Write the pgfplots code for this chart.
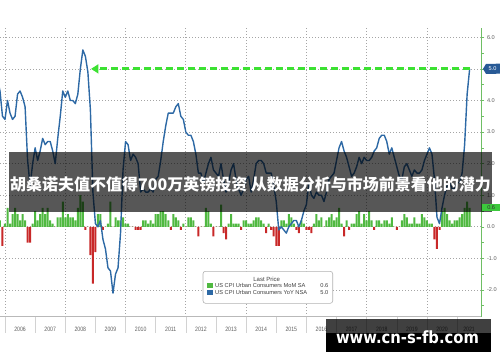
\documentclass[border=0pt]{standalone}
\usepackage{fontspec}
\setmainfont{Liberation Sans}
\newfontfamily\cjk{Noto Sans CJK SC}
\newfontfamily\wmfont{DejaVu Sans}[FakeStretch=0.88]
\newfontfamily\narrowfont{Liberation Sans}[FakeStretch=0.82]
\usepackage{pgfplots}
\pgfplotsset{compat=1.18}
\usepackage{pgfplotstable}
\usetikzlibrary{arrows.meta}

\definecolor{barg}{RGB}{80,185,65}
\definecolor{barr}{RGB}{200,40,40}
\definecolor{lineb}{RGB}{45,105,165}
\definecolor{arrowg}{RGB}{60,225,50}
\definecolor{axisg}{RGB}{110,190,100}
\definecolor{tickgray}{RGB}{95,95,95}
\definecolor{gridgray}{RGB}{165,165,165}
\definecolor{boxblue}{RGB}{40,90,150}
\definecolor{boxgreen}{RGB}{60,200,60}

\pgfplotstableread{
year month yoy mom
2005 9 4.7 1.2
2005 10 4.3 0.2
2005 11 3.5 -0.6
2005 12 3.4 0.1
2006 1 4.0 0.6
2006 2 3.6 0.1
2006 3 3.4 0.4
2006 4 3.5 0.6
2006 5 4.2 0.4
2006 6 4.3 0.2
2006 7 4.1 0.4
2006 8 3.8 0.2
2006 9 2.1 -0.5
2006 10 1.3 -0.5
2006 11 2.0 0.1
2006 12 2.5 0.5
2007 1 2.1 0.2
2007 2 2.4 0.4
2007 3 2.8 0.6
2007 4 2.6 0.4
2007 5 2.7 0.6
2007 6 2.7 0.2
2007 7 2.4 0.1
2007 8 2.0 0.0
2007 9 2.8 0.3
2007 10 3.5 0.3
2007 11 4.3 0.8
2007 12 4.1 0.3
2008 1 4.3 0.4
2008 2 4.0 0.3
2008 3 4.0 0.3
2008 4 3.9 0.2
2008 5 4.2 0.6
2008 6 5.0 1.0
2008 7 5.6 0.8
2008 8 5.4 -0.1
2008 9 4.9 0.0
2008 10 3.7 -0.9
2008 11 1.1 -1.8
2008 12 0.1 -0.8
2009 1 0.0 0.4
2009 2 0.2 0.4
2009 3 -0.4 -0.1
2009 4 -0.7 0.0
2009 5 -1.3 0.1
2009 6 -1.4 0.8
2009 7 -2.1 0.0
2009 8 -1.5 0.3
2009 9 -1.3 0.2
2009 10 -0.2 0.2
2009 11 1.8 0.3
2009 12 2.7 0.1
2010 1 2.6 0.1
2010 2 2.1 0.0
2010 3 2.3 0.0
2010 4 2.2 -0.1
2010 5 2.0 -0.1
2010 6 1.1 -0.1
2010 7 1.2 0.2
2010 8 1.1 0.2
2010 9 1.1 0.1
2010 10 1.2 0.2
2010 11 1.1 0.1
2010 12 1.5 0.4
2011 1 1.6 0.4
2011 2 2.1 0.5
2011 3 2.7 0.5
2011 4 3.2 0.4
2011 5 3.6 0.2
2011 6 3.6 -0.1
2011 7 3.6 0.4
2011 8 3.8 0.3
2011 9 3.9 0.2
2011 10 3.5 -0.1
2011 11 3.4 0.1
2011 12 3.0 0.0
2012 1 2.9 0.3
2012 2 2.9 0.3
2012 3 2.7 0.2
2012 4 2.3 0.0
2012 5 1.7 -0.3
2012 6 1.7 0.0
2012 7 1.4 0.0
2012 8 1.7 0.6
2012 9 2.0 0.5
2012 10 2.2 0.1
2012 11 1.8 -0.3
2012 12 1.7 0.0
2013 1 1.6 0.0
2013 2 2.0 0.7
2013 3 1.5 -0.2
2013 4 1.1 -0.4
2013 5 1.4 0.1
2013 6 1.8 0.4
2013 7 2.0 0.1
2013 8 1.5 0.1
2013 9 1.2 0.1
2013 10 1.0 -0.1
2013 11 1.2 0.2
2013 12 1.5 0.2
2014 1 1.6 0.1
2014 2 1.1 0.1
2014 3 1.5 0.2
2014 4 2.0 0.3
2014 5 2.1 0.3
2014 6 2.1 0.2
2014 7 2.0 0.1
2014 8 1.7 -0.2
2014 9 1.7 0.1
2014 10 1.7 -0.1
2014 11 1.3 -0.3
2014 12 0.8 -0.6
2015 1 -0.1 -0.6
2015 2 0.0 0.2
2015 3 -0.1 0.2
2015 4 -0.2 0.1
2015 5 0.0 0.4
2015 6 0.1 0.3
2015 7 0.2 0.1
2015 8 0.2 -0.1
2015 9 0.0 -0.2
2015 10 0.2 0.2
2015 11 0.5 0.1
2015 12 0.7 -0.1
2016 1 1.4 -0.1
2016 2 1.0 -0.2
2016 3 0.9 0.1
2016 4 1.1 0.4
2016 5 1.0 0.2
2016 6 1.0 0.3
2016 7 0.8 0.0
2016 8 1.1 0.2
2016 9 1.5 0.3
2016 10 1.6 0.4
2016 11 1.7 0.2
2016 12 2.1 0.3
2017 1 2.5 0.6
2017 2 2.7 0.1
2017 3 2.4 -0.3
2017 4 2.2 0.2
2017 5 1.9 -0.1
2017 6 1.6 0.1
2017 7 1.7 0.1
2017 8 1.9 0.4
2017 9 2.2 0.5
2017 10 2.0 0.1
2017 11 2.2 0.4
2017 12 2.1 0.2
2018 1 2.1 0.5
2018 2 2.2 0.2
2018 3 2.4 -0.1
2018 4 2.5 0.2
2018 5 2.8 0.2
2018 6 2.9 0.1
2018 7 2.9 0.2
2018 8 2.7 0.2
2018 9 2.3 0.1
2018 10 2.5 0.3
2018 11 2.2 0.0
2018 12 1.9 -0.1
2019 1 1.6 0.0
2019 2 1.5 0.2
2019 3 1.9 0.4
2019 4 2.0 0.3
2019 5 1.8 0.1
2019 6 1.6 0.1
2019 7 1.8 0.3
2019 8 1.7 0.1
2019 9 1.7 0.1
2019 10 1.8 0.4
2019 11 2.1 0.3
2019 12 2.3 0.2
2020 1 2.5 0.1
2020 2 2.3 0.1
2020 3 1.5 -0.4
2020 4 0.3 -0.7
2020 5 0.1 -0.1
2020 6 0.6 0.5
2020 7 1.0 0.6
2020 8 1.3 0.4
2020 9 1.4 0.2
2020 10 1.2 0.1
2020 11 1.2 0.2
2020 12 1.4 0.2
2021 1 1.4 0.3
2021 2 1.7 0.4
2021 3 2.6 0.6
2021 4 4.2 0.8
2021 5 5.0 0.6
}\cpidata

\begin{document}
\begin{tikzpicture}[x=1pt,y=1pt]
\path[use as bounding box] (0,0) rectangle (500,362);
\begin{axis}[
  at={(0pt,45.3pt)}, anchor=south west,
  scale only axis, width=481.5pt, height=288.7pt,
  xmin=2005.834, xmax=2021.81, ymin=-2.846, ymax=6.294,
  axis line style={draw=none},
  xtick={2006,2008,...,2020}, xticklabels={},
  major x tick style={draw=none},
  xmajorgrids, ymajorgrids,
  grid style={gridgray, line width=0.7pt, dash pattern=on 0.7pt off 2.3pt},
  ytick={-2,...,6},
  yticklabels={{-2.0},{-1.0},{0.0},{1.0},{2.0},{3.0},{4.0},{},{6.0}},
  minor ytick={-2.5,-1.5,...,5.5},
  ytick pos=right, yticklabel pos=right,
  tick align=outside,
  major tick length=3pt, minor tick length=2pt,
  y tick style={axisg, line width=0.6pt},
  yticklabel style={font=\fontsize{5.6}{6}\selectfont, text=tickgray, anchor=west, xshift=-1pt},
]
\addplot[ybar, bar width=2pt, bar shift=0pt, fill=barg, draw=none, restrict y to domain=0:5]
  table[x expr=\thisrow{year}+\thisrow{month}/12, y=mom]{\cpidata};
\addplot[ybar, bar width=2pt, bar shift=0pt, fill=barr, draw=none, restrict y to domain=-5:0]
  table[x expr=\thisrow{year}+\thisrow{month}/12, y=mom]{\cpidata};
\addplot[lineb, line width=1.4pt, mark=none, line join=round]
  table[x expr=\thisrow{year}+\thisrow{month}/12, y=yoy]{\cpidata};
\coordinate (arrR) at (axis cs:2021.417,5);
\coordinate (arrL) at (axis cs:2008.853,5);
\coordinate (lab5) at (axis cs:2021.81,5);
\coordinate (lab06) at (axis cs:2021.81,0.6);
\end{axis}
% axis lines
\draw[gray!55, line width=0.6pt] (0,45.3) -- (481.5,45.3);
\draw[axisg, line width=0.8pt] (481.5,45.3) -- (481.5,334);
% year band
\foreach \yr in {2006,...,2021} {
  \draw[gray!35, line width=0.6pt] ({5+(\yr-2006)*30.14},45.3) -- ++(0,-16);
}
\foreach \yr in {2006,...,2020} {
  \node[font=\narrowfont\fontsize{6.3}{7}\selectfont, text=tickgray] at ({5+(\yr-2006+0.5)*30.14},33) {\yr};
}
\node[font=\narrowfont\fontsize{6.3}{7}\selectfont, text=tickgray] at (469,33) {2021};
% green arrow
\draw[arrowg, line width=2.8pt, dash pattern=on 7pt off 4pt, -{Triangle[length=7.5pt,width=9pt]}] (arrR) -- (arrL);
% legend
\draw[gray!60, rounded corners=2.5pt, fill=white, line width=0.6pt] (203,58.7) rectangle (332.7,90.7);
\node[font=\fontsize{6}{7}\selectfont, text=black!75] at (266.7,82.7) {Last Price};
\fill[barg] (206.7,73.7) rectangle (212.7,78.7);
\fill[lineb] (206.7,67.2) rectangle (212.7,72.2);
\node[anchor=west, inner sep=0pt, font=\fontsize{5.7}{6}\selectfont, text=black!75] at (215,76.2) {US CPI Urban Consumers MoM SA};
\node[anchor=west, inner sep=0pt, font=\fontsize{5.7}{6}\selectfont, text=black!75] at (215,69.7) {US CPI Urban Consumers YoY NSA};
\node[anchor=east, inner sep=0pt, font=\fontsize{5.7}{6}\selectfont, text=black!75] at (328.5,76.2) {0.6};
\node[anchor=east, inner sep=0pt, font=\fontsize{5.7}{6}\selectfont, text=black!75] at (328.5,69.7) {5.0};
% blue 5.0 tag
\fill[boxblue] ([xshift=1.5pt]lab5) -- ++(3,5) -- (500,298.3) -- (500,288.3) -- ([xshift=4.5pt,yshift=-5pt]lab5) -- cycle;
\node[font=\fontsize{5.6}{6}\selectfont, text=white] at ([xshift=11pt]lab5) {5.0};
% banner
\fill[black, opacity=0.66] (9,150) rectangle (492,210);
\node[text=white, font=\cjk\bfseries\fontsize{16}{18}\selectfont, inner sep=0pt] at (250.5,177.5) {胡桑诺夫值不值得700万英镑投资 从数据分析与市场前景看他的潜力};
% green 0.6 tag
\node[fill=boxgreen, text=black!80, font=\fontsize{5.6}{6}\selectfont, inner sep=0.6pt, anchor=west, minimum width=18pt, minimum height=7pt] at ([xshift=0.5pt]lab06) {0.6};
% watermark
\fill[black, opacity=0.75] (326,29) rectangle (491,43);
\fill[black] (326,10) rectangle (491,29);
\node[text=white, font=\wmfont\bfseries\fontsize{16.8}{18}\selectfont, anchor=base, inner sep=0pt] at (407.5,19) {www.cn-s-fb.com};
\end{tikzpicture}
\end{document}
